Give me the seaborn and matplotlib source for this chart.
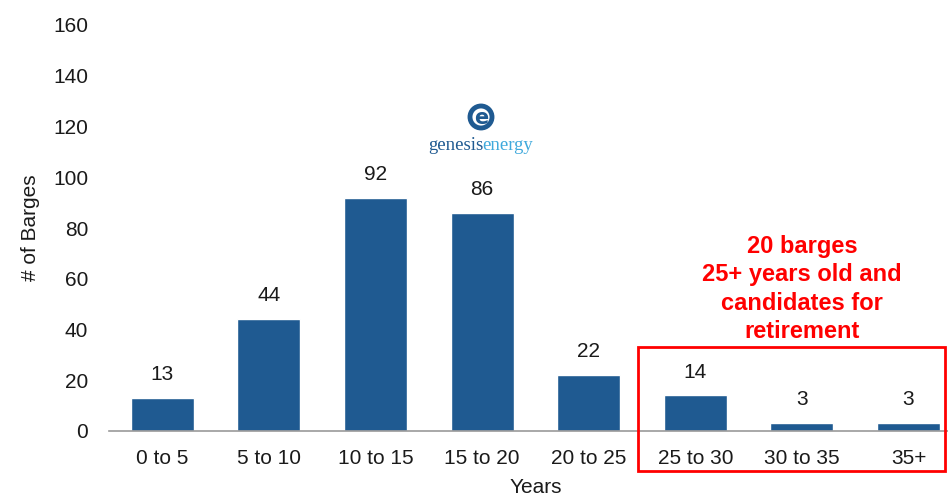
import matplotlib
matplotlib.use("Agg")
import matplotlib.pyplot as plt
import seaborn as sns
import pandas as pd
from matplotlib.patches import Ellipse, Rectangle

categories = ["0 to 5", "5 to 10", "10 to 15", "15 to 20", "20 to 25", "25 to 30", "30 to 35", "35+"]
barges = [13, 44, 92, 86, 22, 14, 3, 3]
y_ticks = [0, 20, 40, 60, 80, 100, 120, 140, 160]

sns.set_theme(style="white")
plt.rcParams["font.family"] = ["Liberation Sans", "DejaVu Sans"]

df = pd.DataFrame({"age": categories, "count": barges})

W, H = 948, 497
fig = plt.figure(figsize=(W / 100, H / 100), dpi=100)
ax = fig.add_axes([109 / W, 66 / H, 1 - 109 / W, 406 / H])

sns.barplot(data=df, x="age", y="count", color="#1F5A91", width=0.59,
            saturation=1, ax=ax, order=categories)

ax.set_ylim(0, 160)
ax.set_xlim(-0.5, 7.37)
ax.set_yticks(y_ticks)
ax.tick_params(axis="both", length=0, labelsize=15, colors="#1a1a1a")
ax.tick_params(axis="y", pad=15)
ax.tick_params(axis="x", pad=13)
for s in ["top", "right", "left"]:
    ax.spines[s].set_visible(False)
ax.spines["bottom"].set_color("#9a9a9a")
ax.spines["bottom"].set_linewidth(1.2)

ax.set_xlabel("Years", fontsize=15, color="#1a1a1a")
ax.set_ylabel("# of Barges", fontsize=15, color="#1a1a1a")
ax.xaxis.set_label_coords((536 - 109) / (W - 109), -0.116)
ax.yaxis.set_label_coords(-(109 - 40) / (W - 109), 0.5)

for cont in ax.containers:
    ax.bar_label(cont, labels=[str(v) for v in barges], padding=10,
                 fontsize=15, color="#1a1a1a")

# Retirement candidate callout
ax.text(6.0, 56.0, "20 barges\n25+ years old and\ncandidates for\nretirement",
        ha="center", va="center", color="#ff0000", fontsize=17,
        fontweight="bold", linespacing=1.3)
fig.patches.append(Rectangle((638 / W, 1 - 471 / H), (945 - 638) / W,
                             (471 - 347) / H, transform=fig.transFigure,
                             fill=False, edgecolor="#ff0000", linewidth=2))

# Company mark
fig.patches.append(Ellipse((481 / W, 1 - 117 / H), 22 / W, 22 / H,
                           transform=fig.transFigure, facecolor="white",
                           edgecolor="#1F5A91", linewidth=3.5))
fig.text(481 / W, 1 - 118 / H, "e", ha="center", va="center",
         fontsize=15, fontweight="bold", color="#1F5A91", family="DejaVu Sans")
fig.text(483 / W, 1 - 145 / H, "genesis", ha="right", va="center",
         fontsize=13.5, color="#1F5A91", family="Liberation Serif")
fig.text(482 / W, 1 - 145 / H, "energy", ha="left", va="center",
         fontsize=13.5, color="#3fa9dc", family="Liberation Serif")

fig.savefig("out.png", dpi=100)
